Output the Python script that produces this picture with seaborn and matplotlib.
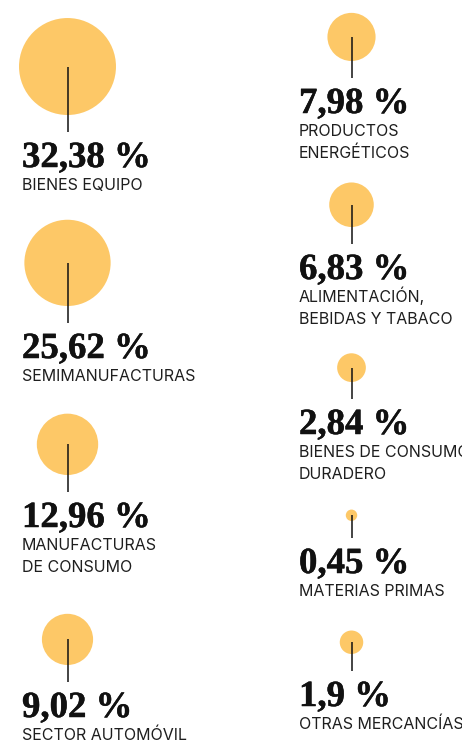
"""
Bubble infographic: share of exports by product sector.
"""

import numpy as np
import pandas as pd
import matplotlib
matplotlib.use('Agg')
import matplotlib.pyplot as plt
import matplotlib.patheffects as pe
import seaborn as sns

# data
categories = [
    'BIENES EQUIPO',
    'SEMIMANUFACTURAS',
    'MANUFACTURAS\nDE CONSUMO',
    'SECTOR AUTOMÓVIL',
    'PRODUCTOS\nENERGÉTICOS',
    'ALIMENTACIÓN,\nBEBIDAS Y TABACO',
    'BIENES DE CONSUMO\nDURADERO',
    'MATERIAS PRIMAS',
    'OTRAS MERCANCÍAS',
]
values = [32.38, 25.62, 12.96, 9.02, 7.98, 6.83, 2.84, 0.45, 1.9]
column = [0, 0, 0, 0, 1, 1, 1, 1, 1]

# layout (pixel canvas)
W, H, DPI = 462, 742, 100
col_center = [67.5, 351.5]
col_text = [22, 299]
value_baseline = [167, 358, 527, 717, 113, 279, 434, 573, 706]
LINE_GAP = 35      # stem end -> value baseline
STEM = 17          # circle bottom -> stem end
LABEL_GAP = 23     # value baseline -> first label baseline
LABEL_STEP = 21.7
PX_PER_PCT = 72.6  # circle area (px^2) per percent point

BUBBLE = '#fdc867'
INK = '#111111'
LABEL = '#1e1e1e'

sns.set_theme(style='white')

# circle radius in px follows the same linear-area scale as seaborn's size mapping
radius = [np.sqrt(PX_PER_PCT * v) for v in values]
stem_end = [vb - LINE_GAP for vb in value_baseline]
centers = [se - STEM - r for se, r in zip(stem_end, radius)]

df = pd.DataFrame({
    'category': categories,
    'value': values,
    'x': [col_center[c] for c in column],
    'y': centers,
})

fig = plt.figure(figsize=(W / DPI, H / DPI), dpi=DPI)
ax = fig.add_axes([0, 0, 1, 1])

pt2_per_pct = 4 * (72 / DPI) ** 2 * PX_PER_PCT
sns.scatterplot(data=df, x='x', y='y', size='value',
                sizes=(0, pt2_per_pct * max(values)),
                size_norm=(0, max(values)),
                color=BUBBLE, linewidth=0, legend=False, ax=ax, zorder=1)

thick = [pe.withStroke(linewidth=0.35, foreground=INK)]
for i, row in df.iterrows():
    ax.plot([row['x'], row['x']], [row['y'], stem_end[i]],
            color=INK, lw=1.1, zorder=2, solid_capstyle='butt')
    tx = col_text[column[i]]
    num = str(row['value']).replace('.', ',')
    ax.text(tx, value_baseline[i], f"{num} %",
            family='Liberation Serif', weight='bold',
            fontsize=26.5, color=INK, va='baseline', ha='left',
            path_effects=thick)
    for j, line in enumerate(row['category'].split('\n')):
        ax.text(tx, value_baseline[i] + LABEL_GAP + j * LABEL_STEP, line,
                family='Inter', fontsize=11.5, color=LABEL,
                va='baseline', ha='left')

ax.set_xlim(0, W)
ax.set_ylim(H, 0)
ax.axis('off')

fig.savefig('out.png', dpi=DPI, facecolor='white')
